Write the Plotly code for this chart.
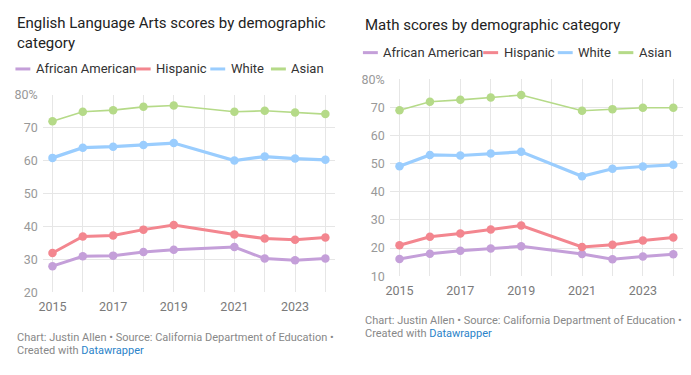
import plotly.graph_objects as go

W, H = 691, 375

years = [2015, 2016, 2017, 2018, 2019, 2021, 2022, 2023, 2024]
grid_years = [2015, 2016, 2017, 2018, 2019, 2020, 2021, 2022, 2023, 2024]
year_labels = ["2015", "", "2017", "", "2019", "", "2021", "", "2023", ""]

series_names = ["African American", "Hispanic", "White", "Asian"]
series_colors = ["#c49fd9", "#f3868f", "#9acdfe", "#b5da88"]
series_widths = [3, 3, 3.2, 1.6]

ela_african_american = [27.9, 30.9, 31.1, 32.2, 32.9, 33.7, 30.2, 29.7, 30.2]
ela_hispanic = [31.9, 36.9, 37.2, 39.0, 40.4, 37.5, 36.3, 35.9, 36.6]
ela_white = [60.8, 63.9, 64.2, 64.7, 65.3, 60.0, 61.2, 60.6, 60.2]
ela_asian = [71.9, 74.8, 75.3, 76.3, 76.7, 74.8, 75.1, 74.6, 74.1]

math_african_american = [16.1, 18.0, 19.0, 19.8, 20.6, 17.9, 16.0, 17.0, 17.8]
math_hispanic = [21.0, 24.0, 25.2, 26.6, 28.0, 20.4, 21.2, 22.7, 23.7]
math_white = [49.1, 53.1, 52.9, 53.6, 54.2, 45.5, 48.2, 49.0, 49.6]
math_asian = [69.0, 72.0, 72.7, 73.5, 74.4, 68.8, 69.4, 69.9, 69.9]

ela_ticks = [20, 30, 40, 50, 60, 70, 80]
math_ticks = [10, 20, 30, 40, 50, 60, 70, 80]

ela_title = "English Language Arts scores by demographic<br>category"
math_title = "Math scores by demographic category"
footer_line1 = "Chart: Justin Allen • Source: California Department of Education •"
footer_line2_pre = "Created with "
footer_link = "Datawrapper"

FONT = "Roboto, 'Open Sans', sans-serif"

def px(x):
    return x / W

def py(y):
    return 1 - y / H

fig = go.Figure()

panels = [
    dict(data=[ela_african_american, ela_hispanic, ela_white, ela_asian], xa="x", ya="y",
         xdom=[39, 333], ydom=[90.3, 296], yr=[20, 80], ticks=ela_ticks,
         title=ela_title, title_x=11, title_y=26.5, legend_x=11.5, legend_y=63.5,
         foot_x=11, foot_y=343),
    dict(data=[math_african_american, math_hispanic, math_white, math_asian], xa="x2", ya="y2",
         xdom=[388, 683], ydom=[74.3, 279.3], yr=[10, 80], ticks=math_ticks,
         title=math_title, title_x=361, title_y=18, legend_x=361, legend_y=46.5,
         foot_x=361, foot_y=325.5),
]

legend_offsets = [0, 121, 196, 257]
shapes = []
annotations = []

for i, p in enumerate(panels):
    for name, vals, col, lw in zip(series_names, p["data"], series_colors, series_widths):
        fig.add_trace(go.Scatter(
            x=years, y=vals, name=name, mode="lines+markers",
            line=dict(color=col, width=lw),
            marker=dict(color=col, size=8.5),
            xaxis=p["xa"], yaxis=p["ya"], showlegend=False, cliponaxis=False,
        ))
    sfx = "" if i == 0 else "2"
    fig.update_layout(**{
        "xaxis" + sfx: dict(
            domain=[px(p["xdom"][0]), px(p["xdom"][1])],
            range=[2014.68, 2024.32], tickvals=grid_years, ticktext=year_labels,
            showgrid=True, gridcolor="#e6e6e6", gridwidth=1, zeroline=False,
            showline=False, ticks="", tickfont=dict(family=FONT, size=12.5, color="#7a7a7a"),
            anchor="y" + sfx, fixedrange=True, ticklabelstandoff=5,
        ),
        "yaxis" + sfx: dict(
            domain=[py(p["ydom"][1]), py(p["ydom"][0])],
            range=p["yr"], tickvals=p["ticks"],
            ticktext=[f"{t}%" if t == p["ticks"][-1] else str(t) for t in p["ticks"]],
            showgrid=True, gridcolor="#e6e6e6", gridwidth=1, zeroline=False,
            showline=False, ticks="", tickfont=dict(family=FONT, size=12.5, color="#999999"),
            anchor="x" + sfx, fixedrange=True, ticklabelstandoff=4,
        ),
    })
    # title
    annotations.append(dict(
        text=p["title"], x=px(p["title_x"]), y=py(p["title_y"]), xref="paper", yref="paper",
        xanchor="left", yanchor="middle", align="left", showarrow=False,
        font=dict(family=FONT, size=15, color="#222222"),
    ))
    # legend
    for off, name, col in zip(legend_offsets, series_names, series_colors):
        x0 = p["legend_x"] + off
        shapes.append(dict(
            type="line", xref="paper", yref="paper",
            x0=px(x0), x1=px(x0 + 15), y0=py(p["legend_y"]), y1=py(p["legend_y"]),
            line=dict(color=col, width=3),
        ))
        annotations.append(dict(
            text=name, x=px(x0 + 18.5), y=py(p["legend_y"]), xref="paper", yref="paper",
            xanchor="left", yanchor="middle", showarrow=False,
            font=dict(family=FONT, size=13, color="#333333"),
        ))
    # footer
    annotations.append(dict(
        text=footer_line1, x=px(p["foot_x"]), y=py(p["foot_y"]), xref="paper", yref="paper",
        xanchor="left", yanchor="middle", showarrow=False,
        font=dict(family=FONT, size=11, color="#888888"),
    ))
    annotations.append(dict(
        text=footer_line2_pre + f"<span style='color:#2b83c9'>{footer_link}</span>",
        x=px(p["foot_x"]), y=py(p["foot_y"] + 14), xref="paper", yref="paper",
        xanchor="left", yanchor="middle", showarrow=False,
        font=dict(family=FONT, size=11, color="#888888"),
    ))

fig.update_layout(
    width=W, height=H, margin=dict(l=0, r=0, t=0, b=0),
    paper_bgcolor="white", plot_bgcolor="white",
    shapes=shapes, annotations=annotations, showlegend=False,
    hovermode=False,
)

fig.write_html(
    "out.html",
    config={"displayModeBar": False},
    post_script="document.body.style.margin='0';document.body.style.padding='0';document.body.style.overflow='hidden';",
)
